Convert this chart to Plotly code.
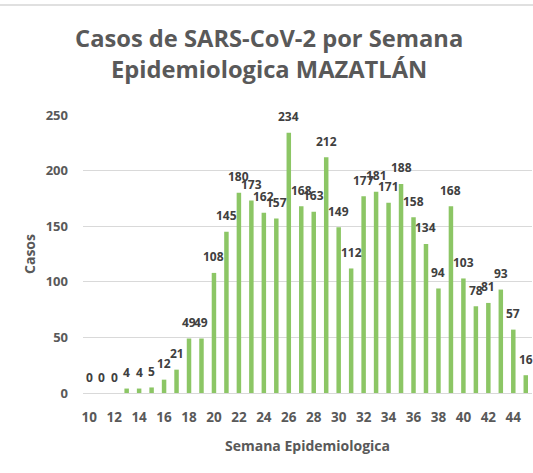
import plotly.graph_objects as go

# Weekly SARS-CoV-2 case counts, Mazatlán
semanas = list(range(10, 46))
casos = [0, 0, 0, 4, 4, 5, 12, 21, 49, 49, 108, 145, 180, 173, 162, 157, 234, 168,
         163, 212, 149, 112, 177, 181, 171, 188, 158, 134, 94, 168, 103, 78, 81, 93, 57, 16]
ticks_x = list(range(10, 46, 2))
ticks_y = [0, 50, 100, 150, 200, 250]

FONT = "Open Sans"
GREY = "#595959"

fig = go.Figure(go.Bar(
    x=semanas,
    y=casos,
    marker=dict(color="#8CC665", line=dict(width=0)),
    width=0.36,
    cliponaxis=False,
))

# value labels sitting above each bar
labels = [
    dict(x=s, y=c, xref="x", yref="y", text=str(c), showarrow=False,
         yanchor="middle", yshift=16,
         font=dict(family=FONT, size=12, color="#404040", weight="bold"))
    for s, c in zip(semanas, casos)
]

# plot area: 449 px wide, 278 px tall, bottom edge 80 px above page bottom
top_line_y = (473 - 80 - 5) / 278

fig.update_layout(
    width=533, height=473,
    margin=dict(l=83, r=1, t=115, b=80),
    paper_bgcolor="white", plot_bgcolor="white",
    showlegend=False,
    title=dict(
        text="Casos de SARS-CoV-2 por Semana<br>Epidemiologica MAZATLÁN",
        x=0.505, xanchor="center", y=0.9, yanchor="middle",
        font=dict(family=FONT, size=23.7, color=GREY, weight="bold"),
    ),
    xaxis=dict(
        range=[9.5, 45.5], tickmode="array", tickvals=ticks_x,
        ticktext=[str(t) for t in ticks_x],
        showgrid=False, zeroline=False, showline=False, ticks="",
        ticklabelstandoff=14,
        tickfont=dict(family=FONT, size=13.5, color=GREY, weight="bold"),
        title=dict(text="Semana Epidemiologica", standoff=16,
                   font=dict(family=FONT, size=14, color=GREY, weight="bold")),
    ),
    yaxis=dict(
        range=[0, 250], tickmode="array", tickvals=ticks_y,
        showgrid=True, gridcolor="#D9D9D9", gridwidth=1,
        zeroline=True, zerolinecolor="#D9D9D9", zerolinewidth=1,
        showline=False, ticks="", ticklabelstandoff=14,
        tickfont=dict(family=FONT, size=13, color=GREY, weight="bold"),
        title=dict(text="Casos", standoff=6,
                   font=dict(family=FONT, size=14, color=GREY, weight="bold")),
    ),
    annotations=labels,
    shapes=[dict(type="line", xref="paper", yref="paper",
                 x0=-83 / 449, x1=1.01, y0=top_line_y, y1=top_line_y,
                 line=dict(color="#E0E0E0", width=2))],
)

fig.write_html("out.html")
